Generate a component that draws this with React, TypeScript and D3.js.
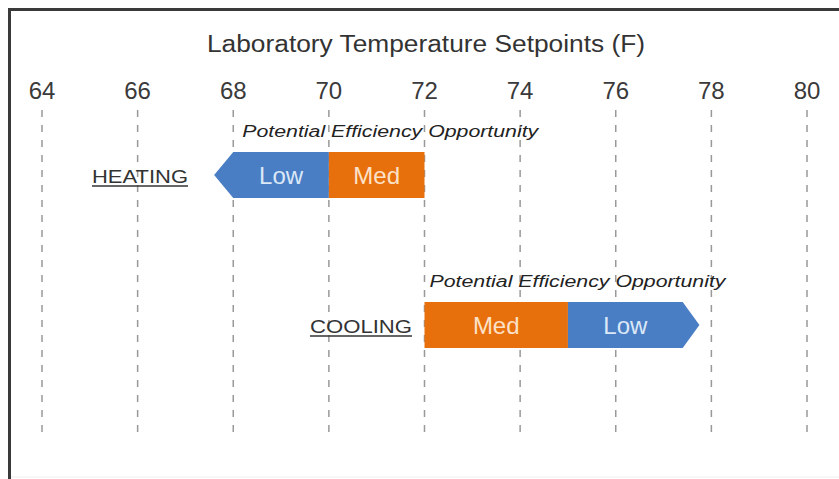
import * as d3 from 'd3'

// axis ticks (deg F)
const ticks = [64, 66, 68, 70, 72, 74, 76, 78, 80]

// segments: from/to in deg F, tip = where the arrow point ends (null = square end)
const heatingSegments = [
  { label: 'Low', from: 70, to: 68, tip: 67.6, kind: 'low' },
  { label: 'Med', from: 70, to: 72, tip: null, kind: 'med' },
]
const coolingSegments = [
  { label: 'Med', from: 72, to: 75, tip: null, kind: 'med' },
  { label: 'Low', from: 75, to: 77.4, tip: 77.75, kind: 'low' },
]
const rowNames = ['HEATING', 'COOLING']
const noteText = 'Potential Efficiency Opportunity'

const W = 839
const H = 479
const BLUE = '#4a7ec4'
const ORANGE = '#e8700c'

const x = d3.scaleLinear().domain([64, 80]).range([42, 807])
const rowY = d3.scaleOrdinal<string, number>().domain(rowNames).range([175, 325])
const barH = 46

function segPath(s: any, cy: number) {
  const top = cy - barH / 2
  const bot = cy + barH / 2
  const a = x(Math.min(s.from, s.to))
  const b = x(Math.max(s.from, s.to))
  const pts: [number, number][] = []
  if (s.tip == null) {
    pts.push([a, top], [b, top], [b, bot], [a, bot])
  } else if (s.tip < s.from) {
    const t = x(s.tip)
    pts.push([t, cy], [a, top], [b, top], [b, bot], [a, bot])
  } else {
    const t = x(s.tip)
    pts.push([a, top], [b, top], [t, cy], [b, bot], [a, bot])
  }
  return (d3.line()(pts) || '') + 'Z'
}

function Row({ name, segs, labelX, labelW }: { name: string; segs: any[]; labelX: number; labelW: number }) {
  const cy = rowY(name)
  const noteStart = x(Math.min(...segs.map((s) => Math.min(s.from, s.to))))
  return (
    <g>
      <text x={labelX} y={cy + 8} fontSize={18} fill="#333" textLength={labelW} lengthAdjust="spacingAndGlyphs">
        {name}
      </text>
      <line x1={labelX} x2={labelX + labelW} y1={cy + 11} y2={cy + 11} stroke="#333" strokeWidth={1.5} />
      {segs.map((s) => {
        const mid = (x(s.from) + x(s.to)) / 2
        return (
          <g key={s.label}>
            <path d={segPath(s, cy)} fill={s.kind === 'low' ? BLUE : ORANGE} />
            <text
              x={mid}
              y={cy + 9}
              textAnchor="middle"
              fontSize={24}
              fill={s.kind === 'low' ? '#dbe8f7' : '#fbe2c9'}
            >
              {s.label}
            </text>
          </g>
        )
      })}
      <text
        x={noteStart + (name === 'HEATING' ? 9 : 5)}
        y={cy - 38}
        fontSize={16}
        fontStyle="italic"
        fill="#222"
        textLength={296}
        lengthAdjust="spacingAndGlyphs"
      >
        {noteText}
      </text>
    </g>
  )
}

export default function App() {
  return (
    <svg
      width={W}
      height={H}
      style={{ position: 'absolute', left: 0, top: 0, background: '#fff', fontFamily: 'Arial, "Liberation Sans", sans-serif' }}
    >
      <rect width={W} height={H} fill="#fff" />
      {/* frame */}
      <path d={`M9.5,${H} L9.5,9.5 L${W},9.5`} fill="none" stroke="#3a3a3a" strokeWidth={3} />
      <line x1={11} x2={W} y1={H - 2} y2={H - 2} stroke="#eee" strokeWidth={1} />

      <text x={426} y={52} textAnchor="middle" fontSize={23} fill="#333" textLength={438} lengthAdjust="spacingAndGlyphs">
        Laboratory Temperature  Setpoints (F)
      </text>

      {ticks.map((t) => (
        <g key={t}>
          <text x={x(t)} y={99} textAnchor="middle" fontSize={24} fill="#3a3a3a">
            {t}
          </text>
          <line x1={x(t)} x2={x(t)} y1={110} y2={436} stroke="#999" strokeWidth={1.5} strokeDasharray="7,8" />
        </g>
      ))}

      <Row name="HEATING" segs={heatingSegments} labelX={92} labelW={96} />
      <Row name="COOLING" segs={coolingSegments} labelX={310} labelW={102} />
    </svg>
  )
}
